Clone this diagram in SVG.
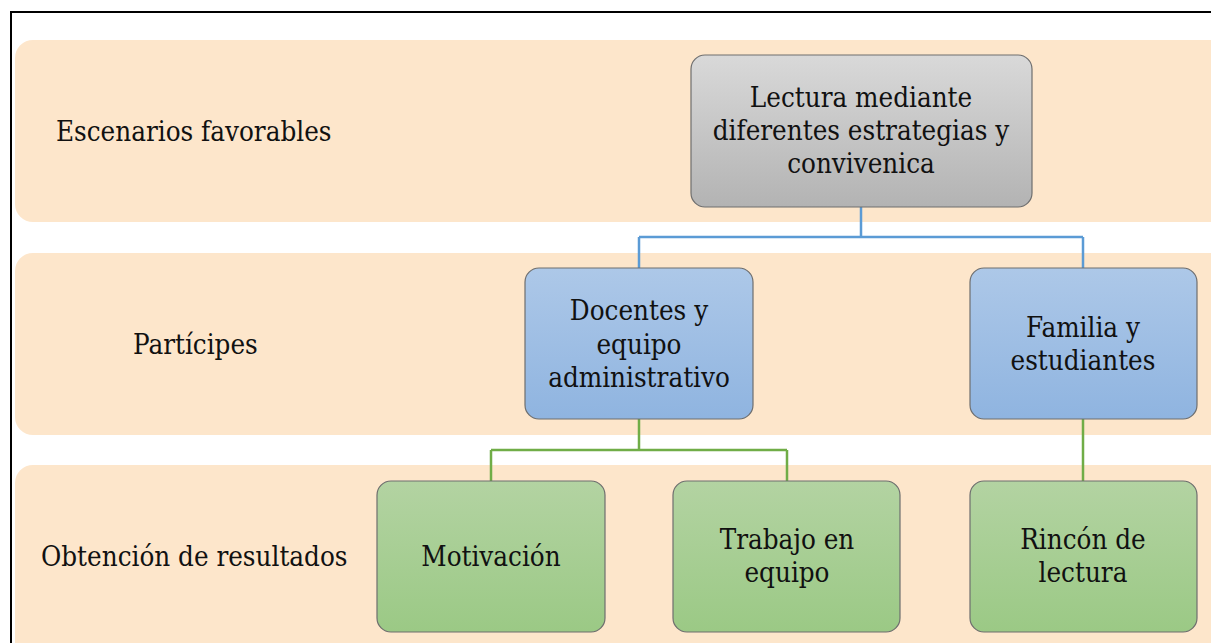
<svg xmlns="http://www.w3.org/2000/svg" width="1211" height="643" viewBox="0 0 1211 643">
<defs>
<linearGradient id="gGray" x1="0" y1="0" x2="0" y2="1"><stop offset="0" stop-color="#d9d9d9"/><stop offset="1" stop-color="#b3b3b3"/></linearGradient>
<linearGradient id="gBlue" x1="0" y1="0" x2="0" y2="1"><stop offset="0" stop-color="#adc8e8"/><stop offset="1" stop-color="#8fb4e0"/></linearGradient>
<linearGradient id="gGreen" x1="0" y1="0" x2="0" y2="1"><stop offset="0" stop-color="#b3d3a2"/><stop offset="1" stop-color="#9bc985"/></linearGradient>
<style>
.band{fill:#fde6cb}
.node{stroke:#6e6e6e;stroke-width:1.2}
text{font-family:'DejaVu Serif Condensed','DejaVu Serif',serif;font-size:27.5px;fill:#111}
.c{text-anchor:middle}
.cb{fill:none;stroke:#5b9bd5;stroke-width:2.5}
.cg{fill:none;stroke:#70ad47;stroke-width:2.5}
</style>
</defs>
<rect width="1211" height="643" fill="#fff"/>
<rect x="11" y="12" width="1230" height="660" fill="none" stroke="#000" stroke-width="2"/>
<g id="bands">
<rect class="band" x="15" y="40" width="1230" height="182" rx="18"/>
<rect class="band" x="15" y="253" width="1230" height="182" rx="18"/>
<rect class="band" x="15" y="465" width="1230" height="200" rx="18"/>
<text x="56" y="141">Escenarios favorables</text>
<text x="133" y="354">Partícipes</text>
<text x="41" y="566">Obtención de resultados</text>
</g>
<g id="connectors">
<path class="cb" d="M861,207 V237 M639,237 H1083 M639,237 V268 M1083,237 V268"/>
<path class="cg" d="M639,419 V450 M491,450 H787 M491,450 V481 M787,450 V481 M1083,419 V481"/>
</g>
<g id="n-lectura">
<rect class="node" x="691" y="55" width="341" height="152" rx="14" fill="url(#gGray)"/>
<text class="c" x="861" y="107">Lectura mediante</text>
<text class="c" x="861" y="140">diferentes estrategias y</text>
<text class="c" x="861" y="173">convivenica</text>
</g>
<g id="n-docentes">
<rect class="node" x="525" y="268" width="228" height="151" rx="14" fill="url(#gBlue)"/>
<text class="c" x="639" y="320">Docentes y</text>
<text class="c" x="639" y="354">equipo</text>
<text class="c" x="639" y="387">administrativo</text>
</g>
<g id="n-familia">
<rect class="node" x="970" y="268" width="227" height="151" rx="14" fill="url(#gBlue)"/>
<text class="c" x="1083" y="337">Familia y</text>
<text class="c" x="1083" y="370">estudiantes</text>
</g>
<g id="n-motivacion">
<rect class="node" x="377" y="481" width="228" height="151" rx="14" fill="url(#gGreen)"/>
<text class="c" x="491" y="566">Motivación</text>
</g>
<g id="n-trabajo">
<rect class="node" x="673" y="481" width="227" height="151" rx="14" fill="url(#gGreen)"/>
<text class="c" x="787" y="549">Trabajo en</text>
<text class="c" x="787" y="582">equipo</text>
</g>
<g id="n-rincon">
<rect class="node" x="970" y="481" width="227" height="151" rx="14" fill="url(#gGreen)"/>
<text class="c" x="1083" y="549">Rincón de</text>
<text class="c" x="1083" y="582">lectura</text>
</g>
</svg>
